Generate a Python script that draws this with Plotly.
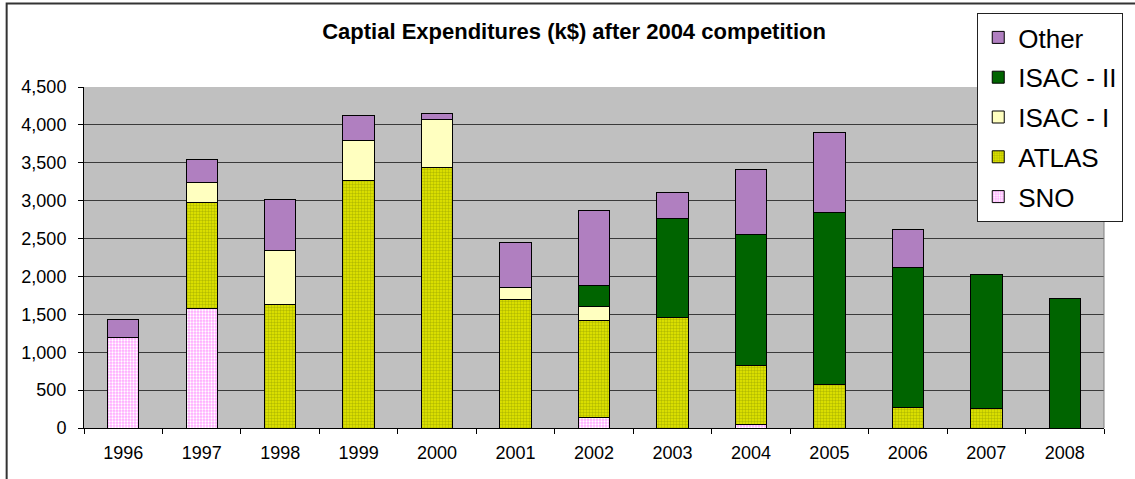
import plotly.graph_objects as go

years = ["1996", "1997", "1998", "1999", "2000", "2001", "2002",
         "2003", "2004", "2005", "2006", "2007", "2008"]
sno = [1200, 1580, 0, 0, 0, 0, 140, 0, 45, 0, 0, 0, 0]
atlas = [0, 1390, 1625, 3270, 3440, 1690, 1275, 1460, 775, 575, 270, 255, 0]
isac1 = [0, 270, 715, 530, 635, 165, 195, 0, 0, 0, 0, 0, 0]
isac2 = [0, 0, 0, 0, 0, 0, 270, 1305, 1735, 2270, 1845, 1765, 1710]
other = [230, 305, 680, 320, 80, 590, 995, 340, 850, 1050, 505, 0, 0]

FONT = "Liberation Sans, Arial, sans-serif"

fig = go.Figure()
line = dict(color="black", width=1)
fig.add_trace(go.Bar(x=years, y=sno, name="SNO", legendgroup="a", legendrank=5,
                     marker=dict(color="#FFA8FF", line=line,
                                 pattern=dict(shape=".", fgcolor="white", bgcolor="#FFA8FF",
                                              size=3, solidity=0.45, fillmode="replace"))))
fig.add_trace(go.Bar(x=years, y=atlas, name="ATLAS", legendgroup="b", legendrank=4,
                     marker=dict(color="#D8DC00", line=line,
                                 pattern=dict(shape=".", fgcolor="#B4BC00", bgcolor="#E6EA00",
                                              size=3, solidity=0.5, fillmode="replace"))))
fig.add_trace(go.Bar(x=years, y=isac1, name="ISAC - I", legendgroup="c", legendrank=3,
                     marker=dict(color="#FFFFC0", line=line)))
fig.add_trace(go.Bar(x=years, y=isac2, name="ISAC - II", legendgroup="d", legendrank=2,
                     marker=dict(color="#006400", line=line)))
fig.add_trace(go.Bar(x=years, y=other, name="Other", legendgroup="e", legendrank=1,
                     marker=dict(color="#B07FC0", line=line)))

L, R, T, B = 84, 29, 87, 51
W, H = 1135, 479
pw, ph = W - L - R, H - T - B

def px_x(p):
    return (p - L) / pw

def px_y(p):
    return (H - B - p) / ph

fig.update_layout(
    width=W, height=H,
    margin=dict(l=L, r=R, t=T, b=B, pad=0),
    barmode="stack", bargap=0.6,
    paper_bgcolor="white", plot_bgcolor="#C0C0C0",
    font=dict(family=FONT, size=18, color="black"),
    title=dict(text="<b>Captial Expenditures (k$) after 2004 competition</b>",
               font=dict(family=FONT, size=22, color="black"),
               x=px_x(575), xref="paper", xanchor="center",
               y=1 - 31 / H, yref="container", yanchor="middle"),
    xaxis=dict(type="category", range=[-0.5, 12.5], showline=True, linecolor="black",
               linewidth=1, ticks="outside", tickson="boundaries", ticklen=5,
               tickcolor="black", showgrid=False, ticklabelstandoff=8,
               tickfont=dict(size=18)),
    yaxis=dict(range=[0, 4500], dtick=500, tickformat=",d", showline=True,
               linecolor="black", linewidth=1, ticks="outside", ticklen=5,
               tickcolor="black", gridcolor="#3A3A3A", gridwidth=1,
               zeroline=False, ticklabelstandoff=8, tickfont=dict(size=18)),
    legend=dict(x=px_x(979), y=px_y(13), xanchor="left", yanchor="top",
                bgcolor="white", bordercolor="#222222", borderwidth=1,
                font=dict(family=FONT, size=26), traceorder="grouped",
                tracegroupgap=3),
    showlegend=True,
)

# chart outer border and plot right border
fig.add_shape(type="rect", xref="paper", yref="paper",
              x0=px_x(6.5), x1=px_x(1145), y0=px_y(3.5), y1=px_y(490),
              line=dict(color="#333333", width=2), layer="below")
fig.add_shape(type="line", xref="paper", yref="paper",
              x0=1, x1=1, y0=0, y1=1, line=dict(color="#808080", width=1))

fig.write_html("out.html")
